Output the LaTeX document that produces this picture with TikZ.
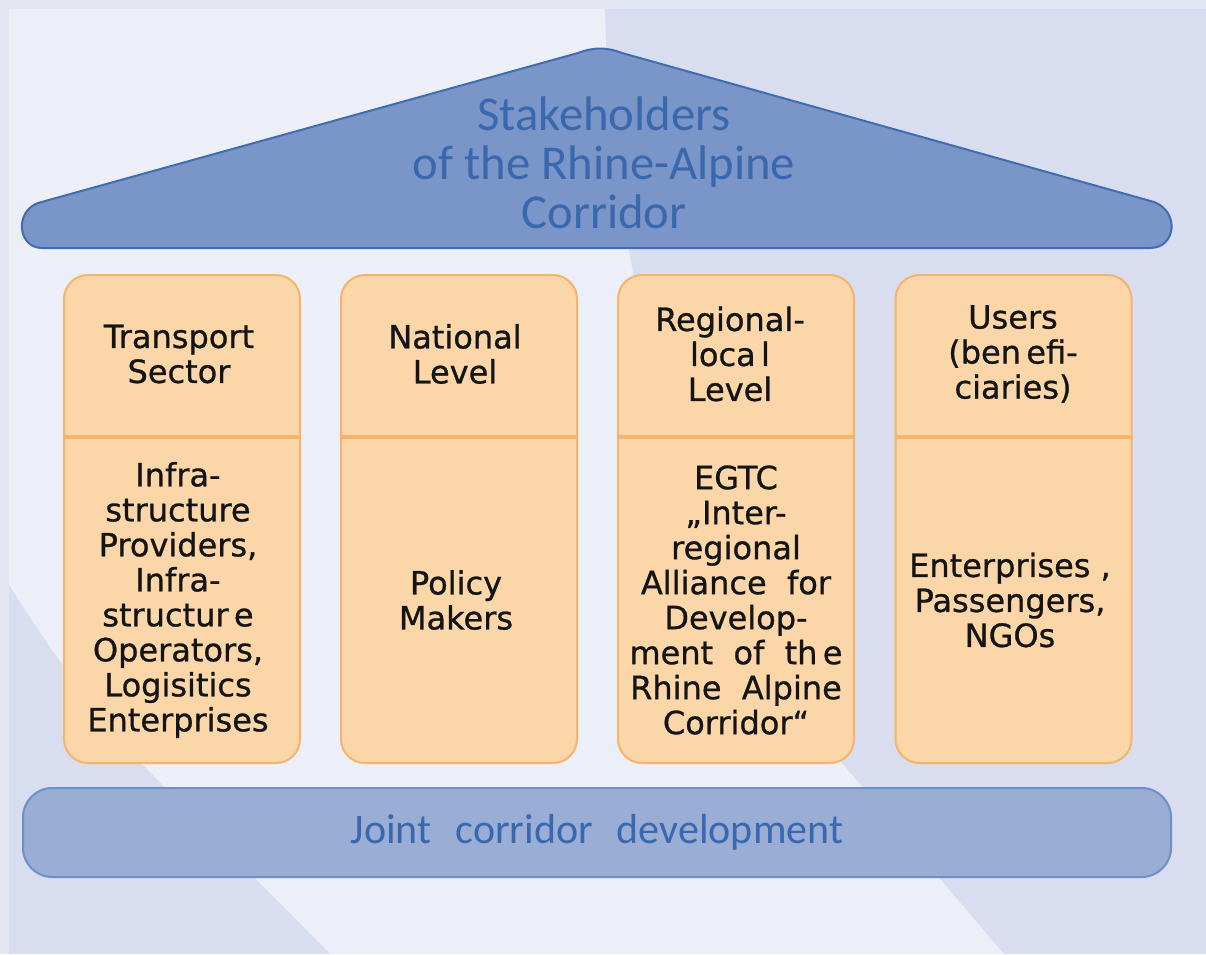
\documentclass[tikz,border=0pt]{standalone}
\usepackage{fontspec}
\setmainfont{DejaVu Sans}
\newfontfamily\pillarfnt[FakeBold=0.8]{DejaVu Sans}
\newfontfamily\roofnt{Carlito}
\usetikzlibrary{positioning}

\definecolor{bglight}{HTML}{ECEFF8}
\definecolor{bgdark}{HTML}{D8DDEF}
\definecolor{bgedge}{HTML}{E4E7F3}
\definecolor{rooffill}{HTML}{7A95C7}
\definecolor{roofedge}{HTML}{3F6DB4}
\definecolor{footfill}{HTML}{99ADD5}
\definecolor{footedge}{HTML}{6F8FC8}
\definecolor{bluetext}{HTML}{3A68AF}
\definecolor{pillarfill}{HTML}{FAD6A8}
\definecolor{pillaredge}{HTML}{F4B46C}

\pgfdeclarelayer{background layer}
\pgfsetlayers{background layer,main}
\tikzstyle{pillar}=[rectangle,rounded corners=18pt,draw=pillaredge,fill=pillarfill,line width=1.5pt,minimum width=177pt,minimum height=366pt,inner sep=0pt]
\tikzstyle{divider}=[draw=pillaredge,line width=3pt]
\tikzstyle{pillartext}=[align=center,inner sep=0pt,text=black!92,font=\pillarfnt\fontsize{24}{26.25}\selectfont]
\tikzstyle{footing}=[rectangle,rounded corners=22pt,draw=footedge,fill=footfill,line width=1.5pt,minimum width=861pt,minimum height=66.75pt,text=bluetext,font=\roofnt\fontsize{31.5}{36}\selectfont]
\tikzstyle{rooftext}=[align=center,inner sep=0pt,text=bluetext,font=\roofnt\fontsize{36.5}{36.75}\selectfont]

\begin{document}
\begin{tikzpicture}[x=0.75pt,y=-0.75pt]
		\useasboundingbox (0,0) rectangle (1206,954);
		
		\begin{pgfonlayer}{background layer}
			\fill [bglight] (0,0) rectangle (1206,954);
			\fill [bgdark] (605,9) .. controls (612,300) and (700,600) .. (843,764) -- (1004,954) -- (1206,954) -- (1206,9) -- cycle;
			\fill [bgdark] (9,585) .. controls (50,650) and (90,705) .. (130,752) -- (330,954) -- (9,954) -- cycle;
			\fill [bgedge] (0,0) rectangle (1206,9);
			\fill [bgedge] (0,0) rectangle (9,954);
		\end{pgfonlayer}
		
		\draw [roofedge,fill=rooffill,line width=1.5pt] (42,248) -- (1150,248) .. controls (1176,248) and (1180,212) .. (1154,202) -- (622,53) .. controls (606,47) and (594,47) .. (578,53) -- (38,203) .. controls (14,212) and (18,248) .. (42,248) -- cycle;
		\node (roof) at (604,163) [rooftext] {Stakeholders\\of the Rhine-Alpine\\Corridor};
		
		\node (ts) at (182,519) [pillar] {};
		\node (nl) at (459,519) [pillar] {};
		\node (rl) at (736,519) [pillar] {};
		\node (us) at (1013.5,519) [pillar] {};
		
		\coordinate (cut) at (0,437);
		\draw [divider] (ts.west |- cut) -- (ts.east |- cut);
		\draw [divider] (nl.west |- cut) -- (nl.east |- cut);
		\draw [divider] (rl.west |- cut) -- (rl.east |- cut);
		\draw [divider] (us.west |- cut) -- (us.east |- cut);
		
		\node (tsh) at (179,354) [pillartext] {Transport\\Sector};
		\node (tsb) at (178,600) [pillartext] {Infra-\\structure\\Providers,\\Infra-\\structur\,e\\Operators,\\Logisitics\\Enterprises};
		\node (nlh) at (455,354) [pillartext] {National\\Level};
		\node (nlb) at (456,600) [pillartext] {Policy\\Makers};
		\node (rlh) at (730,354) [pillartext] {Regional-\\loca\,l\\Level};
		\node (rlb) at (736,600) [pillartext] {EGTC\\„Inter-\\regional\\Alliance\ \ for\\Develop-\\ment\ \ of\ \ th\,e\\Rhine\ \ Alpine\\Corridor“};
		\node (ush) at (1013,354) [pillartext] {Users\\(ben\,efi-\\ciaries)};
		\node (usb) at (1010,600) [pillartext] {Enterprises ,\\Passengers,\\NGOs};
		
		\node (jcd) at (597,832.5) [footing] {Joint\hspace{18pt}corridor\hspace{18pt}development};
	\end{tikzpicture}
\end{document}
